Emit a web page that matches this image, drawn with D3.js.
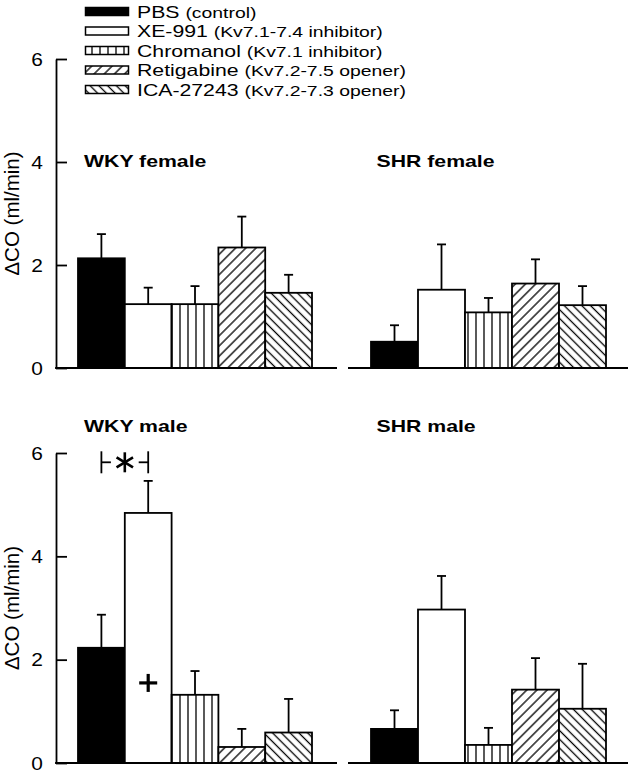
<!DOCTYPE html>
<html>
<head>
<meta charset="utf-8">
<script src="https://cdn.jsdelivr.net/npm/d3@7"></script>
<style>
  html, body { margin: 0; padding: 0; background: #fff; }
  svg { display: block; }
  text { font-family: "Liberation Sans", Arial, sans-serif; fill: #000; }
</style>
</head>
<body>
<svg id="chart" width="632" height="773"></svg>
<script>
// ---------- data ----------
const treatments = ["PBS", "XE-991", "Chromanol", "Retigabine", "ICA-27243"];
const legendNotes = ["(control)", "(Kv7.1-7.4 inhibitor)", "(Kv7.1 inhibitor)", "(Kv7.2-7.5 opener)", "(Kv7.2-7.3 opener)"];
const panelTitles = ["WKY female", "SHR female", "WKY male", "SHR male"];
const yTicks = [0, 2, 4, 6];
const yLabel = "\u0394CO (ml/min)";

const wkyFemaleMean = [2.13, 1.24, 1.24, 2.34, 1.46];
const wkyFemaleSem  = [0.47, 0.32, 0.35, 0.60, 0.35];
const shrFemaleMean = [0.51, 1.52, 1.08, 1.64, 1.22];
const shrFemaleSem  = [0.32, 0.88, 0.28, 0.47, 0.37];
const wkyMaleMean   = [2.23, 4.84, 1.32, 0.31, 0.59];
const wkyMaleSem    = [0.64, 0.62, 0.46, 0.35, 0.65];
const shrMaleMean   = [0.66, 2.97, 0.35, 1.42, 1.05];
const shrMaleSem    = [0.36, 0.65, 0.33, 0.61, 0.87];

const sigBracketLevel = 5.82;   // "*" bracket between PBS and XE-991, WKY male
const plusLevel = 1.55;         // "+" marker inside XE-991 bar, WKY male

// ---------- layout ----------
const svg = d3.select("#chart");
const FONT = '"Liberation Sans", Arial, sans-serif';
const SX = 1.25;   // horizontal stretch of the reference text

const defs = svg.append("defs");
function linePattern(id, size, rotate) {
  const p = defs.append("pattern").attr("id", id)
    .attr("patternUnits", "userSpaceOnUse")
    .attr("width", size).attr("height", size)
    .attr("patternTransform", rotate ? `rotate(${rotate})` : null);
  p.append("rect").attr("width", size).attr("height", size).attr("fill", "#fff");
  p.append("line").attr("x1", size / 2).attr("x2", size / 2)
    .attr("y1", -1).attr("y2", size + 1)
    .attr("stroke", "#000").attr("stroke-width", 1.3);
}
linePattern("vert", 8, 0);
linePattern("fwd", 7.2, 45);
linePattern("back", 6.2, -45);

const fills = ["#000", "#fff", "url(#vert)", "url(#fwd)", "url(#back)"];

const rows = [
  { y0: 368, y6: 59 },
  { y0: 763, y6: 453 }
];
const cols = [
  { axisX: 56, axisEnd: 337, barStart: 78, barEnd: 312, showY: true },
  { axisX: 348, axisEnd: 628, barStart: 371, barEnd: 606, showY: false }
];

const panels = [
  { title: panelTitles[0], mean: wkyFemaleMean, sem: wkyFemaleSem, r: 0, c: 0 },
  { title: panelTitles[1], mean: shrFemaleMean, sem: shrFemaleSem, r: 0, c: 1 },
  { title: panelTitles[2], mean: wkyMaleMean,   sem: wkyMaleSem,   r: 1, c: 0 },
  { title: panelTitles[3], mean: shrMaleMean,   sem: shrMaleSem,   r: 1, c: 1 }
];

function stext(g, x, y, str, size, weight, sx, anchor) {
  return g.append("text")
    .attr("transform", `translate(${x},${y}) scale(${sx},1)`)
    .attr("text-anchor", anchor || "start")
    .style("font-family", FONT)
    .style("font-size", size + "px")
    .style("font-weight", weight || "normal")
    .text(str);
}

const titleY = [166.5, 431.5];
const titleX = [84, 376.5];

panels.forEach(p => {
  const row = rows[p.r], col = cols[p.c];
  const y = d3.scaleLinear().domain([0, 6]).range([row.y0, row.y6]);
  const x = d3.scaleBand().domain(treatments).range([col.barStart, col.barEnd]).paddingInner(0).paddingOuter(0);
  const g = svg.append("g");

  // bars
  const data = treatments.map((t, i) => ({ t, i, m: p.mean[i], s: p.sem[i] }));
  // error bars (drawn first so bar outline sits on top)
  g.selectAll("line.err").data(data).enter().append("line")
    .attr("x1", d => x(d.t) + x.bandwidth() / 2)
    .attr("x2", d => x(d.t) + x.bandwidth() / 2)
    .attr("y1", d => y(d.m)).attr("y2", d => y(d.m + d.s))
    .attr("stroke", "#000").attr("stroke-width", 1.8);
  g.selectAll("line.cap").data(data).enter().append("line")
    .attr("x1", d => x(d.t) + x.bandwidth() / 2 - 4.5)
    .attr("x2", d => x(d.t) + x.bandwidth() / 2 + 4.5)
    .attr("y1", d => y(d.m + d.s)).attr("y2", d => y(d.m + d.s))
    .attr("stroke", "#000").attr("stroke-width", 1.8);
  g.selectAll("rect.bar").data(data).enter().append("rect")
    .attr("x", d => x(d.t))
    .attr("y", d => y(d.m))
    .attr("width", x.bandwidth())
    .attr("height", d => y(0) - y(d.m))
    .attr("fill", d => fills[d.i])
    .attr("stroke", "#000").attr("stroke-width", 1.8);

  // x axis line
  g.append("line")
    .attr("x1", col.axisX - (col.showY ? 0.9 : 0)).attr("x2", col.axisEnd)
    .attr("y1", y(0)).attr("y2", y(0))
    .attr("stroke", "#000").attr("stroke-width", 1.8);

  // y axis
  if (col.showY) {
    const ax = d3.axisLeft(y).tickValues(yTicks).tickFormat(d3.format("d"))
      .tickSizeInner(-11).tickSizeOuter(0).tickPadding(12);
    const ag = svg.append("g").attr("transform", `translate(${col.axisX},0)`).call(ax);
    ag.select(".domain").attr("stroke", "#000").attr("stroke-width", 1.8);
    ag.selectAll(".tick line").attr("stroke", "#000").attr("stroke-width", 1.8);
    ag.selectAll(".tick text")
      .style("font-family", FONT).style("font-size", "19px").attr("fill", "#000")
      .attr("transform", "scale(1.1,1)");
    // y label
    const cy = (row.y0 + row.y6) / 2;
    svg.append("text")
      .attr("transform", `translate(18.5,${cy}) rotate(-90)`)
      .attr("text-anchor", "middle")
      .style("font-family", FONT).style("font-size", "20.5px")
      .text(yLabel);
  }

  // panel title
  stext(svg, titleX[p.c], titleY[p.r], p.title, 17, "bold", SX, "start");

  // significance marks in WKY male
  if (p.r === 1 && p.c === 0) {
    const x1 = x(treatments[0]) + x.bandwidth() / 2;
    const x2 = x(treatments[1]) + x.bandwidth() / 2;
    const yb = y(sigBracketLevel);
    const mid = (x1 + x2) / 2;
    const sg = svg.append("g").attr("stroke", "#000").attr("stroke-width", 1.8).attr("fill", "none");
    sg.append("line").attr("x1", x1).attr("x2", x1).attr("y1", yb - 11).attr("y2", yb + 11);
    sg.append("line").attr("x1", x2).attr("x2", x2).attr("y1", yb - 11).attr("y2", yb + 11);
    sg.append("line").attr("x1", x1).attr("x2", x1 + 9.5).attr("y1", yb).attr("y2", yb);
    sg.append("line").attr("x1", x2 - 9.5).attr("x2", x2).attr("y1", yb).attr("y2", yb);
    // asterisk
    const ag2 = svg.append("g").attr("transform", `translate(${mid},${yb})`)
      .attr("stroke", "#000").attr("stroke-width", 2.6).attr("stroke-linecap", "butt");
    [90, 30, -30].forEach(a => {
      const r = 10, rad = a * Math.PI / 180;
      ag2.append("line")
        .attr("x1", -r * Math.cos(rad) * 0.95).attr("y1", -r * Math.sin(rad))
        .attr("x2", r * Math.cos(rad) * 0.95).attr("y2", r * Math.sin(rad));
    });
    // plus
    const px = x2, py = y(plusLevel);
    const pg = svg.append("g").attr("stroke", "#000").attr("stroke-width", 3.2);
    pg.append("line").attr("x1", px - 9).attr("x2", px + 9).attr("y1", py).attr("y2", py);
    pg.append("line").attr("x1", px).attr("x2", px).attr("y1", py - 9).attr("y2", py + 9);
  }
});

// ---------- legend ----------
const legendRowY = d3.scaleLinear().domain([0, treatments.length - 1]).range([11.5, 89.5]);
const lg = svg.append("g");
treatments.forEach((t, i) => {
  const cy = legendRowY(i);
  lg.append("rect")
    .attr("x", 85.5).attr("y", cy - 4).attr("width", 43).attr("height", 8)
    .attr("fill", fills[i]).attr("stroke", "#000").attr("stroke-width", 1.5);
  const tx = lg.append("text")
    .attr("transform", `translate(137,${cy + 6}) scale(${SX},1)`)
    .style("font-family", FONT);
  tx.append("tspan").style("font-size", "17px").text(t + " ");
  tx.append("tspan").style("font-size", "15.5px").text(legendNotes[i]);
});
</script>
</body>
</html>
